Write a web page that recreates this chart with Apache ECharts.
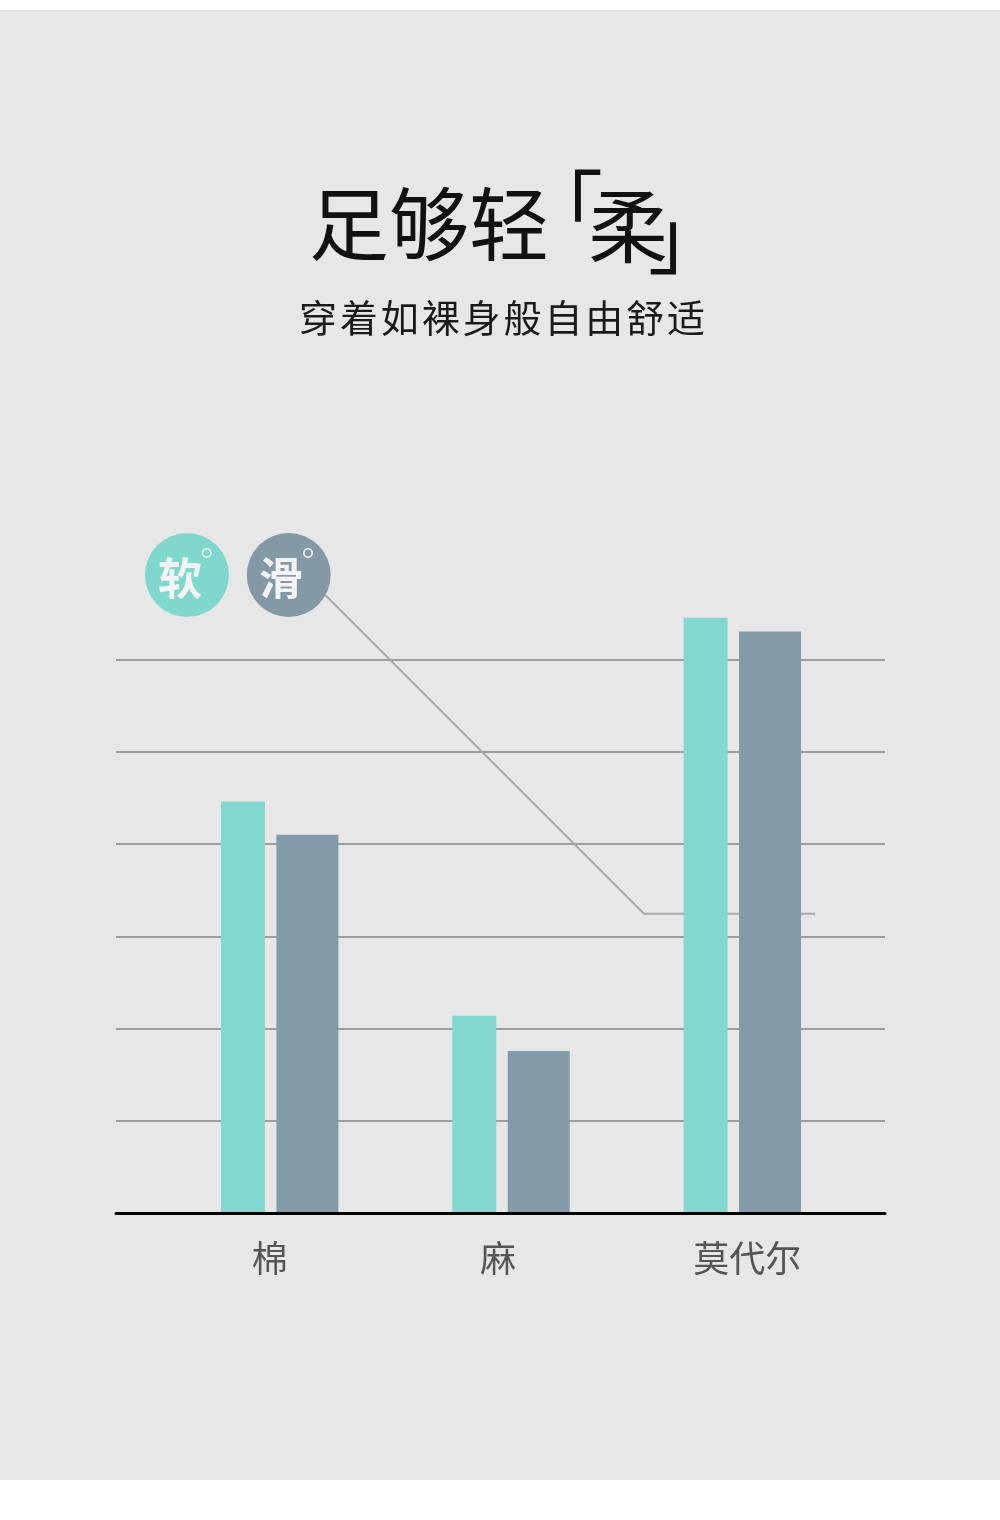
<!DOCTYPE html>
<html><head><meta charset="utf-8">
<script src="https://cdn.jsdelivr.net/npm/echarts@6/dist/echarts.min.js"></script>
<style>html,body{margin:0;padding:0;background:#fff;}#c{position:absolute;left:0;top:10px;width:1000px;height:1470px;}</style>
</head><body><div id="c"></div>
<script>
const categories = ['棉', '麻', '莫代尔'];
const seriesNames = ['软', '滑'];
const softValues = [4.46, 2.14, 6.45];
const smoothValues = [4.10, 1.76, 6.30];
const yMin = 0, yMax = 6, yInterval = 1;
const titleMain = '足够轻';
const titleKey = '柔';
const subtitle = '穿着如裸身般自由舒适';

const colors = ['#82d8ce', '#839aa8'];
const labelPads = [[0, 20, 0, 0], [0, 26, 0, 0], [0, 0, 0, 10]];
const font = '"Noto Sans CJK SC", "Noto Sans", sans-serif';
const chart = echarts.init(document.getElementById('c'));
const gridTop = 649.3, gridBottom = 266.5;

const subChars = Array.from(subtitle).map((ch, i) => ({
  type: 'text', z: 10,
  style: {text: ch, x: 318 + i * 40.9, y: 308, textAlign: 'center', textVerticalAlign: 'middle',
    fontSize: 38, fontFamily: font, fill: '#1a1a1a'}
}));

const option = {
  backgroundColor: '#e7e7e7',
  animation: false,
  grid: [
    {left: 116, right: 115, top: gridTop, bottom: gridBottom},
    {left: 164, right: 142, top: gridTop, bottom: gridBottom}
  ],
  xAxis: [
    {gridIndex: 0, type: 'category', data: categories, z: 5,
     axisLine: {lineStyle: {color: '#000', width: 3}}, axisTick: {show: false}, axisLabel: {show: false}},
    {gridIndex: 1, type: 'category',
     data: categories.map((c, i) => ({value: c, textStyle: {padding: labelPads[i]}})),
     axisLine: {show: false}, axisTick: {show: false},
     axisLabel: {color: '#555', fontSize: 36, margin: 27, fontFamily: font}}
  ],
  yAxis: [
    {gridIndex: 0, type: 'value', min: yMin, max: yMax, interval: yInterval,
     axisLabel: {show: false}, axisLine: {show: false}, axisTick: {show: false},
     splitLine: {lineStyle: {color: '#858585', width: 1.5}}},
    {gridIndex: 1, type: 'value', min: yMin, max: yMax, interval: yInterval, show: false, splitLine: {show: false}}
  ],
  series: [
    {type: 'bar', name: seriesNames[0], xAxisIndex: 1, yAxisIndex: 1, data: softValues,
     barWidth: 44, barGap: '26%', clip: false, itemStyle: {color: colors[0]}},
    {type: 'bar', name: seriesNames[1], xAxisIndex: 1, yAxisIndex: 1, data: smoothValues,
     barWidth: 62, barGap: '26%', clip: false, itemStyle: {color: colors[1]}}
  ],
  graphic: [
    {type: 'text', z: 10, style: {text: titleMain, x: 429, y: 214, textAlign: 'center', textVerticalAlign: 'middle',
      fontSize: 80, fontFamily: font, fill: '#111'}},
    {type: 'text', z: 10, style: {text: '「', x: 563, y: 197, textAlign: 'center', textVerticalAlign: 'middle',
      fontSize: 80, fontFamily: font, fill: '#111'}},
    {type: 'text', z: 10, style: {text: titleKey, x: 628, y: 216, textAlign: 'center', textVerticalAlign: 'middle',
      fontSize: 80, fontFamily: font, fill: '#111'}},
    {type: 'text', z: 10, style: {text: '」', x: 688, y: 227, textAlign: 'center', textVerticalAlign: 'middle',
      fontSize: 80, fontFamily: font, fill: '#111'}},
    ...subChars,
    {type: 'polyline', z: 1, shape: {points: [[315, 574.7], [644, 903.7], [815, 903.7]]},
     style: {stroke: '#a9a9a9', lineWidth: 2, fill: null}},
    {type: 'circle', z: 10, shape: {cx: 187, cy: 565, r: 42}, style: {fill: '#80d8cc'}},
    {type: 'circle', z: 10, shape: {cx: 288.7, cy: 565, r: 42}, style: {fill: '#8399a6'}},
    {type: 'text', z: 11, style: {text: seriesNames[0], x: 180, y: 568, textAlign: 'center', textVerticalAlign: 'middle',
      fontSize: 44, fontWeight: 'bold', fontFamily: font, fill: '#f4f4f4'}},
    {type: 'text', z: 11, style: {text: seriesNames[1], x: 281, y: 568, textAlign: 'center', textVerticalAlign: 'middle',
      fontSize: 44, fontWeight: 'bold', fontFamily: font, fill: '#f4f4f4'}},
    {type: 'circle', z: 11, shape: {cx: 206.7, cy: 543, r: 4.2}, style: {fill: null, stroke: '#f4f4f4', lineWidth: 1.6}},
    {type: 'circle', z: 11, shape: {cx: 308, cy: 543, r: 4.2}, style: {fill: null, stroke: '#f4f4f4', lineWidth: 1.6}}
  ]
};
chart.setOption(option);
</script></body></html>
